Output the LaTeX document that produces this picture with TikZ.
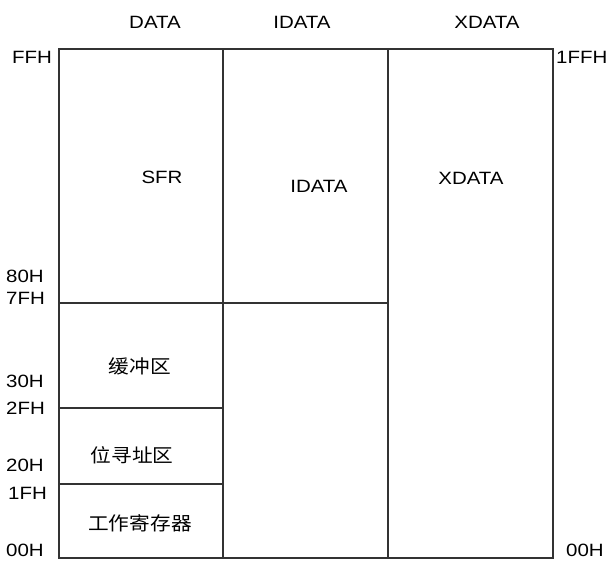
\documentclass[tikz,border=0pt]{standalone}
\usepackage{fontspec}
\setmainfont{Liberation Sans}[FakeStretch=1.15]
\newfontfamily\cjk{Noto Sans CJK SC}[FakeStretch=1.1]
\begin{document}
\begin{tikzpicture}
        [x=1pt,y=-1pt,
        wall/.style={draw=black!80,line width=1.3pt},
        lbl/.style={inner sep=0pt,font=\fontsize{17.8}{20}\selectfont},
        addr/.style={lbl,anchor=west},
        area/.style={inner sep=0pt,font=\cjk\fontsize{18.8}{20}\selectfont}]
        \useasboundingbox (0,0) rectangle (610,561);
        % corners of the three columns
        \coordinate (tl) at (59,49);
        \coordinate (t1) at (223,49);
        \coordinate (t2) at (388,49);
        \coordinate (tr) at (553,49);
        \coordinate (bl) at (59,558);
        \coordinate (b1) at (223,558);
        \coordinate (b2) at (388,558);
        \coordinate (br) at (553,558);
        \coordinate (h7f) at (59,303);
        \coordinate (e7f) at (388,303);
        \coordinate (h2f) at (59,408);
        \coordinate (e2f) at (223,408);
        \coordinate (h1f) at (59,484);
        \coordinate (e1f) at (223,484);
        \draw[wall] (tl) -- (tr) -- (br) -- (bl) -- cycle;
        \draw[wall] (t1) -- (b1);
        \draw[wall] (t2) -- (b2);
        \draw[wall] (h7f) -- (e7f);
        \draw[wall] (h2f) -- (e2f);
        \draw[wall] (h1f) -- (e1f);
        % column titles
        \node[lbl] (data) at (155,22) {DATA};
        \node[lbl] (idata) at (302,22) {IDATA};
        \node[lbl] (xdata) at (487,22) {XDATA};
        % addresses
        \node[addr] (ffh) at (12,57) {FFH};
        \node[addr] (a80) at (6,276) {80H};
        \node[addr] (a7f) at (6,298) {7FH};
        \node[addr] (a30) at (6,381) {30H};
        \node[addr] (a2f) at (6,408) {2FH};
        \node[addr] (a20) at (6,465) {20H};
        \node[addr] (a1f) at (8,493) {1FH};
        \node[addr] (a00) at (6,550) {00H};
        \node[addr] (xff) at (556,57) {1FFH};
        \node[addr] (x00) at (566,550) {00H};
        % areas
        \node[lbl] (sfr) at (162,177) {SFR};
        \node[lbl] (iram) at (319,186) {IDATA};
        \node[lbl] (xram) at (471,178) {XDATA};
        \node[area] (buf) at (140,366) {缓冲区};
        \node[area] (bit) at (132,455) {位寻址区};
        \node[area] (reg) at (140,523) {工作寄存器};
\end{tikzpicture}
\end{document}
